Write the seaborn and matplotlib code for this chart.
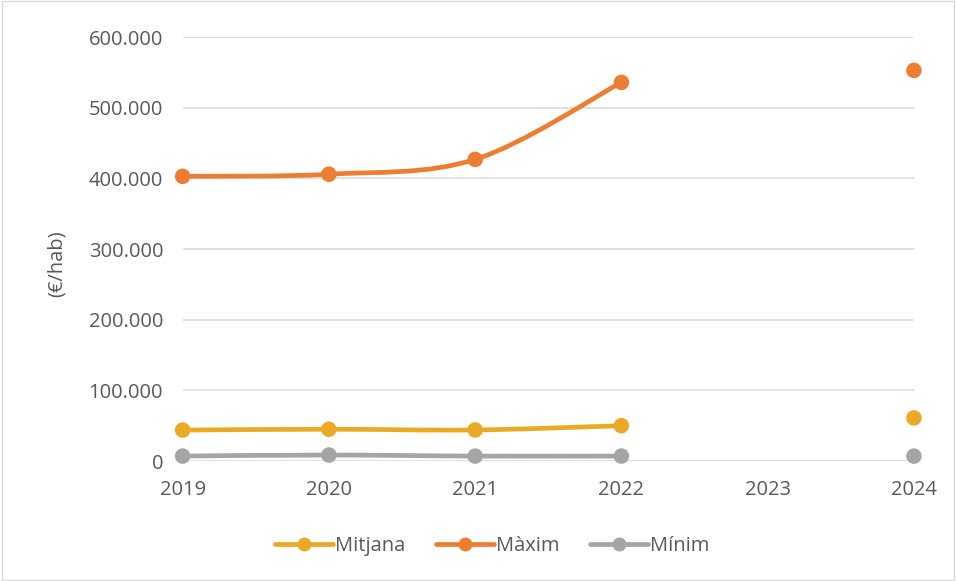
import numpy as np
import pandas as pd
import matplotlib
matplotlib.use("Agg")
import matplotlib.pyplot as plt
import seaborn as sns
from matplotlib.path import Path
from matplotlib.patches import PathPatch, Rectangle
from matplotlib.lines import Line2D
from matplotlib.ticker import FuncFormatter


# =========================
# Data
# =========================

years = [2019, 2020, 2021, 2022, 2023, 2024]

mitjana = [43800, 45000, 44000, 50000, np.nan, 61000]
maxim = [403000, 406000, 427000, 536000, np.nan, 553000]
minim = [7000, 8500, 7000, 7000, np.nan, 7000]

series_names = ["Mitjana", "Màxim", "Mínim"]
colors = ["#EBAA25", "#ED7D31", "#A5A5A5"]

y_ticks = [0, 100000, 200000, 300000, 400000, 500000, 600000]


df = pd.DataFrame({
    "year": years * 3,
    "value": mitjana + maxim + minim,
    "serie": (
        ["Mitjana"] * len(years)
        + ["Màxim"] * len(years)
        + ["Mínim"] * len(years)
    ),
})


# =========================
# Style
# =========================

sns.set_theme(style="white")
plt.rcParams["font.family"] = ["Open Sans", "DejaVu Sans"]
text_color = "#595959"
grid_color = "#D9D9D9"
fs = 14.5
lw = 3.4


fig = plt.figure(figsize=(9.56, 5.81), dpi=100)
ax = fig.add_axes([0.191, 0.2065, 0.765, 0.7295])


def smooth_path(xs, ys):
    # excel-like smoothed line (catmull-rom as bezier), split at gaps
    runs = []
    cur = []
    for x, y in zip(xs, ys):
        if np.isnan(y):
            if cur:
                runs.append(cur)
            cur = []
        else:
            cur.append((x, y))
    if cur:
        runs.append(cur)

    verts = []
    codes = []
    for run in runs:
        if len(run) < 2:
            continue
        pts = np.array(run, dtype=float)
        n = len(pts)
        verts.append(pts[0])
        codes.append(Path.MOVETO)
        for i in range(n - 1):
            p0 = pts[i - 1] if i > 0 else pts[i]
            p1 = pts[i]
            p2 = pts[i + 1]
            p3 = pts[i + 2] if i + 2 < n else pts[i + 1]
            c1 = p1 + (p2 - p0) / 6.0
            c2 = p2 - (p3 - p1) / 6.0
            verts += [c1, c2, p2]
            codes += [Path.CURVE4] * 3
    if not verts:
        return None
    return Path(verts, codes)


for i, name in enumerate(series_names):
    sub = df[df.serie == name]
    path = smooth_path(sub.year.tolist(), sub.value.tolist())
    if path is not None:
        ax.add_patch(
            PathPatch(
                path,
                fill=False,
                edgecolor=colors[i],
                linewidth=lw,
                capstyle="round",
                joinstyle="round",
                zorder=3 + i,
                clip_on=False,
            )
        )


sns.scatterplot(
    data=df.dropna(),
    x="year",
    y="value",
    hue="serie",
    hue_order=series_names,
    palette=colors,
    s=125,
    linewidth=0,
    legend=False,
    zorder=6,
    clip_on=False,
    ax=ax,
)


# =========================
# Axes
# =========================

ax.set_xlim(2019, 2024)
ax.set_ylim(0, 600000)
ax.set_xticks(years)
ax.set_yticks(y_ticks)

ax.yaxis.set_major_formatter(
    FuncFormatter(lambda v, p: f"{int(v):,}".replace(",", "."))
)

ax.grid(axis="y", color=grid_color, linewidth=1.1)
ax.grid(axis="x", visible=False)
ax.set_axisbelow(True)

for s in ax.spines.values():
    s.set_visible(False)

ax.tick_params(axis="x", length=0, pad=14, labelsize=fs, labelcolor=text_color)
ax.tick_params(axis="y", length=0, pad=14, labelsize=fs, labelcolor=text_color)

ax.set_xlabel("")
ax.set_ylabel("(€/hab)", fontsize=fs, color=text_color, labelpad=12)
ax.yaxis.set_label_coords(-0.158, 0.465)


# =========================
# Legend
# =========================

handles = [
    Line2D(
        [0], [0],
        color=c,
        linewidth=lw,
        marker="o",
        markersize=10,
        markeredgewidth=0,
    )
    for c in colors
]

fig.legend(
    handles,
    series_names,
    loc="center",
    bbox_to_anchor=(0.515, 0.061),
    ncol=3,
    frameon=False,
    fontsize=fs,
    labelcolor=text_color,
    handlelength=2.9,
    handletextpad=0.1,
    columnspacing=1.5,
)


# chart border
fig.patches.append(
    Rectangle(
        (0.002, 0.002), 0.996, 0.996,
        transform=fig.transFigure,
        fill=False,
        edgecolor=grid_color,
        linewidth=1.0,
    )
)


fig.savefig("out.png", dpi=100)
